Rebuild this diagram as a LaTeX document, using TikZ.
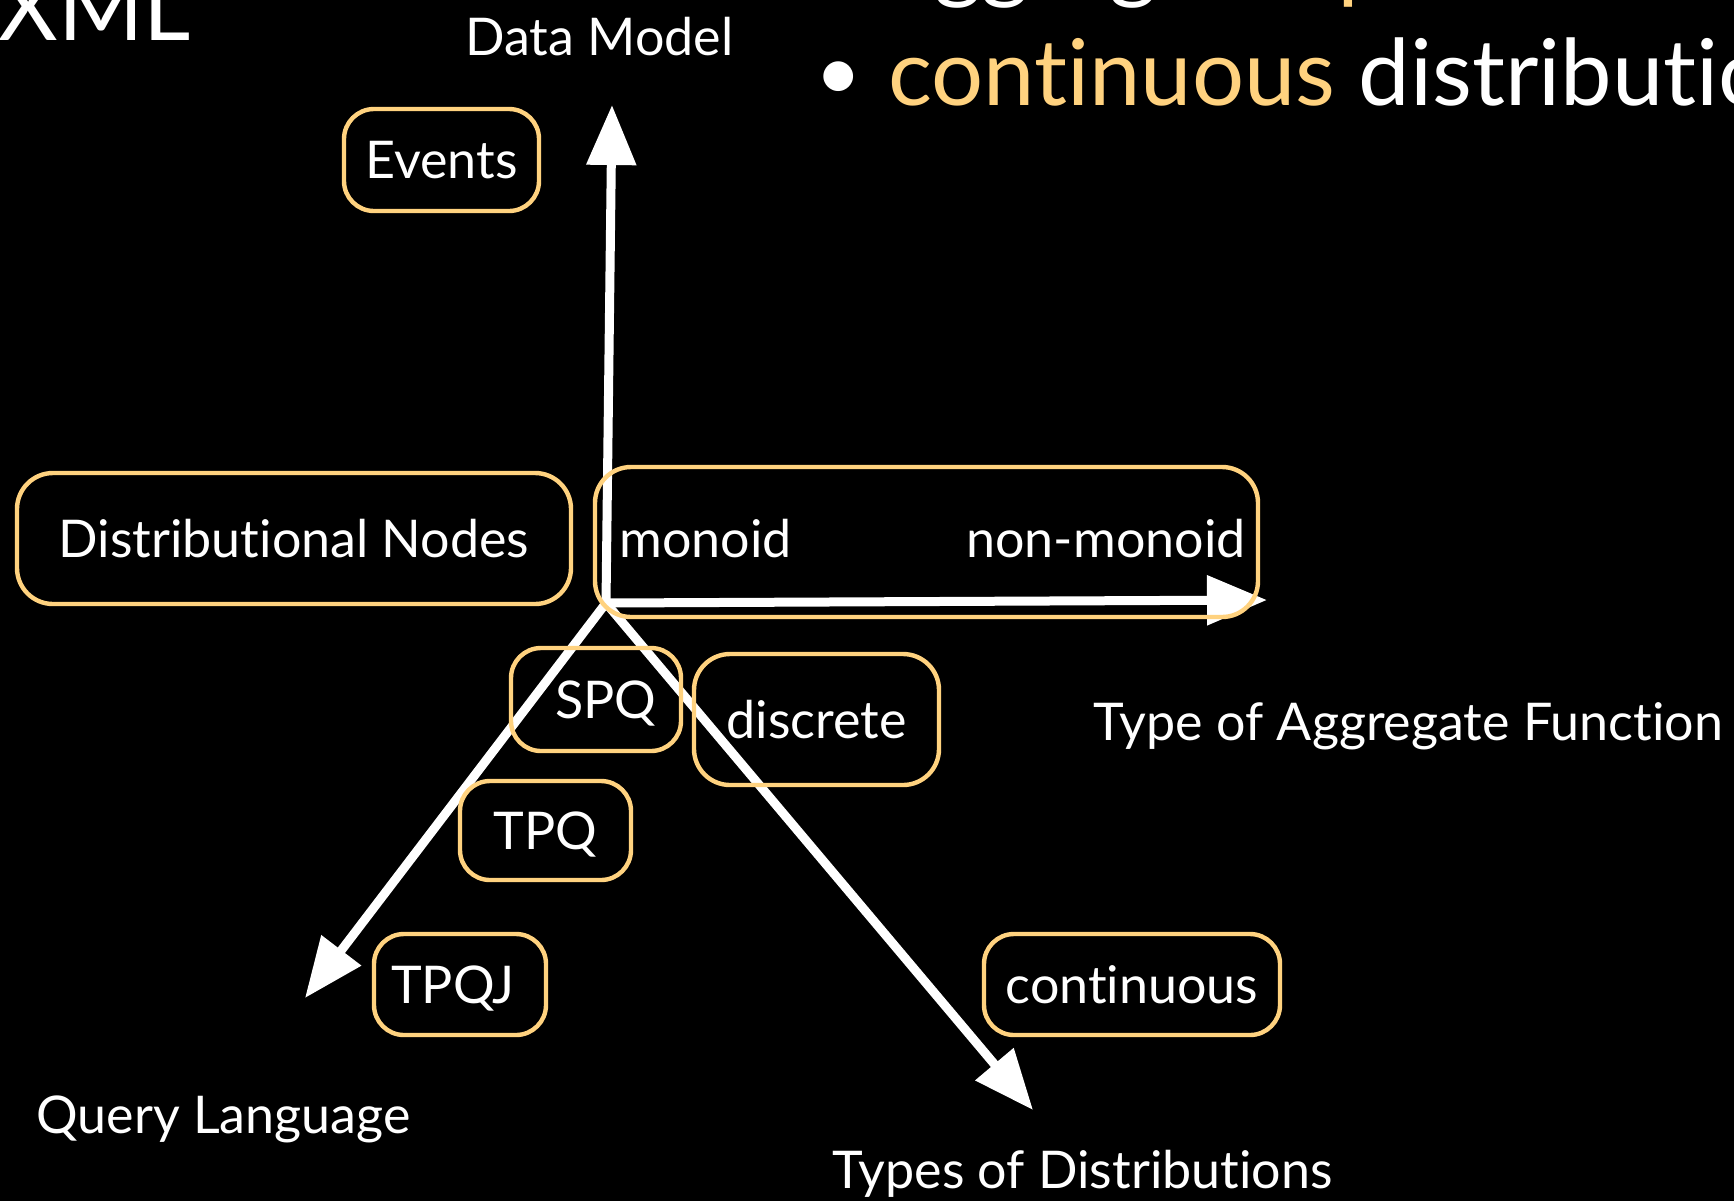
\documentclass[tikz,border=0pt]{standalone}
\usepackage{fontspec}
\setmainfont{Lato}[Ligatures={NoCommon,NoContextual}]
\usetikzlibrary{arrows.meta, positioning}
\definecolor{slideyellow}{HTML}{FFD27F}

\begin{document}
\begin{tikzpicture}[x=0.5pt, y=-0.5pt,
  tag/.style={draw=slideyellow, line width=2.2pt, rounded corners=15pt, text=white, inner sep=0pt, font=\fontsize{26}{30}\selectfont, text height=21pt, text depth=2.5pt},
  axislabel/.style={text=white, inner sep=0pt, anchor=base west, font=\fontsize{26}{30}\selectfont},
  axis/.style={white, line width=4.5pt, -{Triangle[length=30pt, width=24pt]}},
  bigline/.style={text=white, inner sep=0pt, anchor=base west, font=\fontsize{46}{54}\selectfont}
]
\useasboundingbox (0,0) rectangle (1734,1201);
\fill[black] (0,0) rectangle (1734,1201);
\clip (0,0) rectangle (1734,1201);

% slide text behind the figure
\node[bigline] (title) at (-2,40) {XML};
\node[bigline] (prevline) at (888,-9) {aggregate \textcolor{slideyellow}{queries}};
\node[bigline, font=\fontsize{40}{48}\selectfont] (dot) at (815,100) {•};
\node[bigline] (contline) at (888,105) {\textcolor{slideyellow}{continuous} distributions};

% axes
\coordinate (o) at (606,603);
\coordinate (modeltip) at (612,105);
\coordinate (aggtip) at (1267,600);
\coordinate (querytip) at (305,998);
\coordinate (disttip) at (1033,1110);
\draw[axis] (o) -- (modeltip);
\draw[axis] (o) -- (aggtip);
\draw[axis] (o) -- (querytip);
\draw[axis] (o) -- (disttip);

\node[axislabel] (modellbl) at (465,55) {Data Model};
\node[axislabel] (agglbl) at (1093,740) {Type of Aggregate Function};
\node[axislabel] (querylbl) at (36,1133) {Query Language};
\node[axislabel] (distlbl) at (832,1188) {Types of Distributions};

% values on the axes
\node[tag, minimum width=97.5pt, minimum height=51pt] (events) at (441.5,160) {Events};
\node[tag, minimum width=277pt, minimum height=65.5pt, rounded corners=18pt] (distnodes) at (294,538.5) {Distributional Nodes};
\node[tag, minimum width=331.5pt, minimum height=75pt, rounded corners=18pt] (aggbox) at (926.5,542) {};
\node[axislabel] (monoid) at (619,557) {monoid};
\node[axislabel, anchor=base east] (nonmonoid) at (1246,557) {non-monoid};
\node[tag, minimum width=85pt, minimum height=51.5pt] (spq) at (596,699.5) {\hspace*{10pt}SPQ};
\node[tag, minimum width=122.5pt, minimum height=65.5pt, rounded corners=18pt] (discrete) at (816.5,719.5) {discrete};
\node[tag, minimum width=85.5pt, minimum height=49.5pt] (tpq) at (545.5,830.5) {TPQ};
\node[tag, minimum width=86pt, minimum height=50.5pt] (tpqj) at (460,984.5) {TPQJ\hspace*{7pt}};
\node[tag, minimum width=148pt, minimum height=50.5pt] (continuous) at (1132,984.5) {continuous};
\end{tikzpicture}
\end{document}
